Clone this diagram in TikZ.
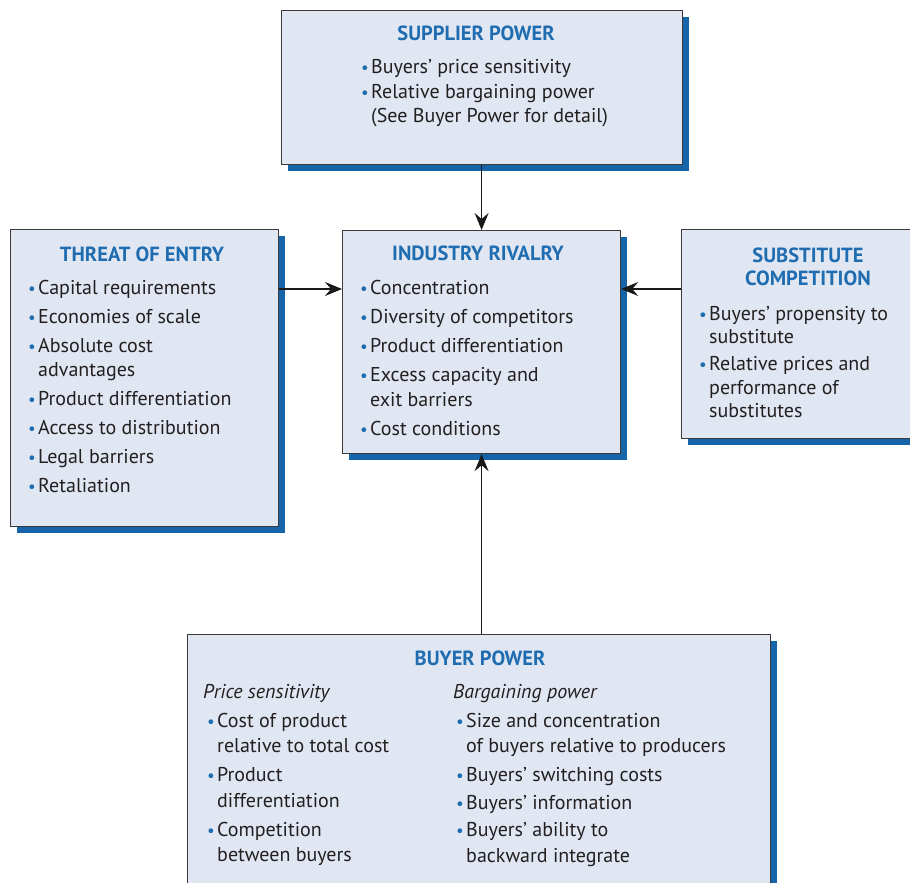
\documentclass[tikz,border=0pt]{standalone}
\usepackage{fontspec}
\setmainfont{PT Sans}
\usetikzlibrary{shadows,arrows.meta}
\definecolor{boxfill}{HTML}{E0E7F2}
\definecolor{shblue}{HTML}{1565A8}
\definecolor{tblue}{HTML}{1F6DB0}
\definecolor{txt}{HTML}{231F20}
\definecolor{edge}{HTML}{3A3A3A}
\newcommand\bl{\makebox[10pt][l]{\textcolor{tblue}{\scalebox{0.85}{\textbullet}}}}
\newcommand\ind{\hspace*{10pt}}
\tikzset{
  panel/.style={draw=edge, line width=1.2pt, fill=boxfill, anchor=north west, inner sep=0pt,
    drop shadow={shadow xshift=6pt, shadow yshift=-6pt, fill=shblue, opacity=1, draw=none}},
  ttl/.style={font=\fontsize{20.5}{23}\selectfont\bfseries, text=tblue, anchor=base, inner sep=0pt},
  body/.style={text=txt, anchor=base west, inner sep=0pt},
  arr/.style={-{Stealth[length=17pt,width=14pt,inset=6pt]}, line width=1.1pt, draw=black!90}
}
\begin{document}
\begin{tikzpicture}[x=1pt,y=-1pt]
\useasboundingbox (0,0) rectangle (910,883);
\clip (0,0) rectangle (910,883);
% boxes
\node[panel, minimum width=401pt, minimum height=154pt] (sup) at (281,10) {};
\node[panel, minimum width=268pt, minimum height=297pt] (thr) at (10,229) {};
\node[panel, minimum width=278pt, minimum height=223pt] (riv) at (342,230) {};
\node[panel, minimum width=240pt, minimum height=209pt] (sub) at (681,229) {};
\node[panel, minimum width=583pt, minimum height=280pt] (buy) at (187,634) {};
% arrows
\coordinate (hy) at (0,289);
\draw[arr] (sup.south -| riv.north) -- (riv.north);
\draw[arr] (riv.south |- buy.north) -- (riv.south);
\draw[arr] (thr.east |- hy) -- (riv.west |- hy);
\draw[arr] (sub.west |- hy) -- (riv.east |- hy);
% supplier
\node[ttl] (supT) at (476,41) {SUPPLIER POWER};
\node[body] (supB) at (361,74) {\parbox[t]{310pt}{\fontsize{20}{24.5}\selectfont
\bl Buyers’ price sensitivity\\
\bl Relative bargaining power\\
\ind (See Buyer Power for detail)}};
% threat of entry
\node[ttl] (thrT) at (142,261) {THREAT OF ENTRY};
\node[body] (thrB) at (28,294) {\parbox[t]{245pt}{\fontsize{20}{24.5}\selectfont
\bl Capital requirements\\[4.5pt]
\bl Economies of scale\\[4.5pt]
\bl Absolute cost\\
\ind advantages\\[4.5pt]
\bl Product differentiation\\[4.5pt]
\bl Access to distribution\\[4.5pt]
\bl Legal barriers\\[4.5pt]
\bl Retaliation}};
% industry rivalry
\node[ttl] (rivT) at (478,260) {INDUSTRY RIVALRY};
\node[body] (rivB) at (360,294) {\parbox[t]{255pt}{\fontsize{20}{25}\selectfont
\bl Concentration\\[4pt]
\bl Diversity of competitors\\[4pt]
\bl Product differentiation\\[4pt]
\bl Excess capacity and\\
\ind exit barriers\\[4pt]
\bl Cost conditions}};
% substitute competition
\node[ttl] (subT) at (808,262) {\parbox[t]{200pt}{\centering SUBSTITUTE\\COMPETITION}};
\node[body] (subB) at (699,320) {\parbox[t]{205pt}{\fontsize{20}{23.5}\selectfont
\bl Buyers’ propensity to\\
\ind substitute\\[3.5pt]
\bl Relative prices and\\
\ind performance of\\
\ind substitutes}};
% buyer power
\node[ttl] (buyT) at (480,665) {BUYER POWER};
\node[body] (buyL0) at (203,698) {\fontsize{20}{25}\selectfont\itshape Price sensitivity};
\node[body] (buyL) at (207,727) {\parbox[t]{235pt}{\fontsize{20}{25.5}\selectfont
\bl Cost of product\\
\ind relative to total cost\\[3.5pt]
\bl Product\\
\ind differentiation\\[3.5pt]
\bl Competition\\
\ind between buyers}};
\node[body] (buyR0) at (453,698) {\fontsize{20}{25}\selectfont\itshape Bargaining power};
\node[body] (buyR) at (456,727) {\parbox[t]{310pt}{\fontsize{20}{25.5}\selectfont
\bl Size and concentration\\
\ind of buyers relative to producers\\[3.5pt]
\bl Buyers’ switching costs\\[2.5pt]
\bl Buyers’ information\\[1.5pt]
\bl Buyers’ ability to\\
\ind backward integrate}};
\end{tikzpicture}
\end{document}
